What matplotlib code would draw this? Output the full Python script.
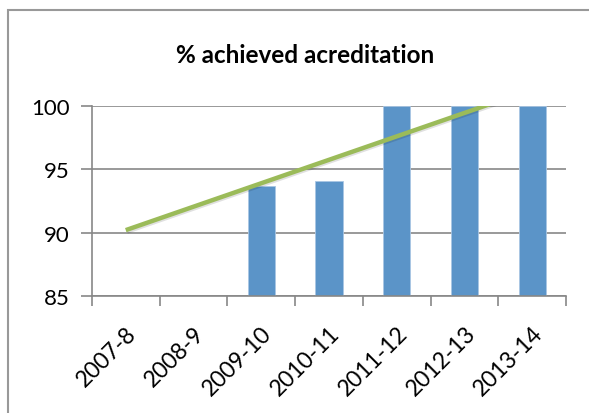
import numpy as np
import matplotlib
matplotlib.use("Agg")
import matplotlib.pyplot as plt
from matplotlib.patches import Rectangle
import matplotlib.patheffects as pe
import matplotlib.transforms as mtransforms

plt.rcParams['font.family'] = ['Lato', 'DejaVu Sans']

years = ['2007-8', '2008-9', '2009-10', '2010-11', '2011-12', '2012-13', '2013-14']
# no bars shown for the first two years
achieved = [np.nan, np.nan, 93.7, 94.1, 100, 100, 100]
# linear trendline, read at first and last category
trend_x = [0, 6]
trend_y = [90.2, 101.3]
y_ticks = [85, 90, 95, 100]

grey = '#878787'

fig = plt.figure(figsize=(5.89, 4.14), dpi=100)
ax = fig.add_axes([0.156, 0.2826, 0.805, 0.459])

x = np.arange(len(years))
ax.bar(x, achieved, width=0.4, bottom=0, color='#5b94c8', edgecolor='#a9c6e4', linewidth=0.6, zorder=2)
ax.plot(trend_x, trend_y, color='#9bbb59', linewidth=3.2, solid_capstyle='butt', zorder=3,
        path_effects=[pe.SimpleLineShadow(offset=(1, -1), alpha=0.12), pe.Normal()])

ax.set_xlim(-0.5, len(years) - 0.5)
ax.set_ylim(85, 100)
ax.set_yticks(y_ticks)
ax.set_yticklabels([str(v) for v in y_ticks], fontsize=16)
ax.yaxis.grid(True, color=grey, linewidth=1.2, zorder=0)
ax.set_axisbelow(True)

ax.set_xticks(x)
ax.set_xticklabels(years, fontsize=16.5, rotation=45, ha='right', va='top', rotation_mode='anchor')
shift = mtransforms.ScaledTranslation(4 / 100, 0, fig.dpi_scale_trans)
for lbl in ax.get_xticklabels():
    lbl.set_transform(lbl.get_transform() + shift)
ax.set_xticks(np.arange(-0.5, len(years)), minor=True)
ax.tick_params(axis='x', which='major', length=0, pad=19)
ax.tick_params(axis='x', which='minor', length=7, width=1.2, color=grey, direction='out')
ax.tick_params(axis='y', length=8, width=1.2, color=grey, pad=8)

for side in ['top', 'right']:
    ax.spines[side].set_visible(False)
for side in ['left', 'bottom']:
    ax.spines[side].set_color(grey)
    ax.spines[side].set_linewidth(1.2)

fig.text(0.518, 0.867, '% achieved acreditation', ha='center', va='center', fontsize=17.5, fontweight='bold')

# outer chart frame (only left and top visible)
fig.patches.append(Rectangle((7.5 / 589, -0.1), 1.2, 1.1 - 11 / 414, transform=fig.transFigure,
                             fill=False, edgecolor='#999999', linewidth=1.5))

fig.savefig('out.png', dpi=100)
